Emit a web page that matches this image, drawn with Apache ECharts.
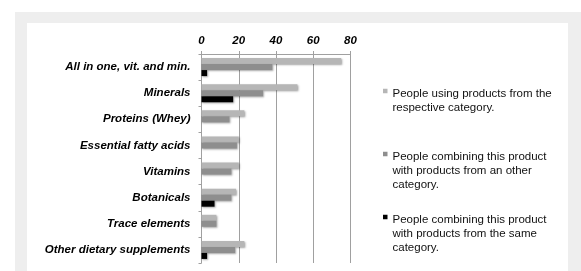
<!DOCTYPE html>
<html>
<head>
<meta charset="utf-8">
<script src="https://cdn.jsdelivr.net/npm/echarts@6/dist/echarts.min.js"></script>
<style>
  html, body { margin: 0; padding: 0; background: #fff; }
  #main { width: 581px; height: 271px; }
</style>
</head>
<body>
<div id="main"></div>
<script>
var categories = ['All in one, vit. and min.', 'Minerals', 'Proteins (Whey)', 'Essential fatty acids',
  'Vitamins', 'Botanicals', 'Trace elements', 'Other dietary supplements'];
var usingValues = [75, 51.5, 23, 20, 20, 18.5, 8, 23];
var otherValues = [38, 33, 15, 19, 16, 16, 8, 18];
var sameValues = [3, 17, null, null, null, 7, null, 3];
var xTicks = [0, 20, 40, 60, 80];
var seriesNames = [
  'People using products from the respective category.',
  'People combining this product with products from an other category.',
  'People combining this product with products from the same category.'
];
var legendLines = [
  ['People using products from the', 'respective category.'],
  ['People combining this product', 'with products from an other', 'category.'],
  ['People combining this product', 'with products from the same', 'category.']
];
var colors = ['#b6b6b6', '#8e8e8e', '#000000'];

var myChart = echarts.init(document.getElementById('main'));
var font = 'Liberation Sans, Arial, sans-serif';
var lineH = 14;

// legend text is centred on the icon; a spacer line on top puts
// the icon next to the first line (a bit above its middle)
function makeLegend(i, top) {
  var lines = legendLines[i];
  var n = lines.length;
  var rich = {
    p: { lineHeight: lineH * n - 9, fontSize: 1 },
    t: { fontFamily: font, fontSize: 11.5, color: '#111', lineHeight: lineH }
  };
  return {
    data: [seriesNames[i]],
    orient: 'vertical',
    left: 383,
    top: top,
    padding: 0,
    itemWidth: 4.5,
    itemHeight: 4.5,
    icon: 'rect',
    selectedMode: false,
    formatter: function () {
      return '{p| }\n' + lines.map(function (l) { return '{t|' + l + '}'; }).join('\n');
    },
    textStyle: { fontFamily: font, fontSize: 11.5, color: '#111', rich: rich }
  };
}

function bar(i, data) {
  return {
    name: seriesNames[i],
    type: 'bar',
    data: data,
    barWidth: 6,
    barGap: '0%',
    itemStyle: {
      color: colors[i],
      shadowColor: 'rgba(0,0,0,0.35)',
      shadowBlur: 2,
      shadowOffsetX: 1,
      shadowOffsetY: 1
    }
  };
}

var option = {
  animation: false,
  graphic: [
    { type: 'rect', z: -10, shape: { x: 15, y: 12, width: 566, height: 270 }, style: { fill: '#eeeeee' } },
    { type: 'rect', z: -9, shape: { x: 27, y: 23, width: 541, height: 260 }, style: { fill: '#ffffff' } }
  ],
  legend: [makeLegend(0, 76.5), makeLegend(1, 132.5), makeLegend(2, 195.5)],
  grid: { left: 201.5, top: 54, width: 149, height: 209, containLabel: false },
  xAxis: {
    type: 'value',
    position: 'top',
    min: xTicks[0],
    max: xTicks[xTicks.length - 1],
    interval: 20,
    axisLine: { show: true, lineStyle: { color: '#a0a0a0', width: 1 } },
    axisTick: { show: true, length: 3, lineStyle: { color: '#a0a0a0' } },
    splitLine: { show: true, lineStyle: { color: '#a0a0a0', width: 1 } },
    axisLabel: {
      margin: 7,
      fontFamily: font,
      fontSize: 11.5,
      fontWeight: 'bold',
      fontStyle: 'italic',
      color: '#000'
    }
  },
  yAxis: {
    type: 'category',
    inverse: true,
    data: categories,
    axisLine: { show: true, lineStyle: { color: '#a0a0a0', width: 1 } },
    axisTick: { show: true, length: 3, lineStyle: { color: '#a0a0a0' } },
    axisLabel: {
      margin: 11,
      fontFamily: font,
      fontSize: 11.5,
      fontWeight: 'bold',
      fontStyle: 'italic',
      color: '#000'
    }
  },
  series: [bar(0, usingValues), bar(1, otherValues), bar(2, sameValues)]
};
myChart.setOption(option);
</script>
</body>
</html>
